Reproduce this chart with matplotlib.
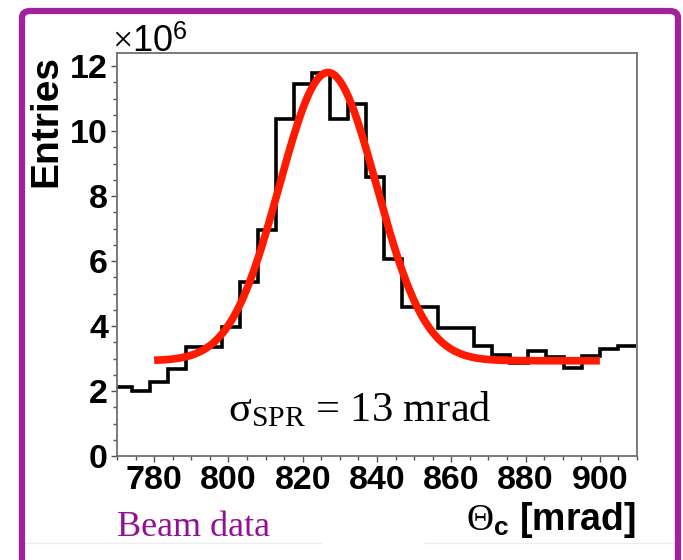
import numpy as np
import matplotlib
matplotlib.use("Agg")
import matplotlib.pyplot as plt
from matplotlib.patches import FancyBboxPatch
from matplotlib.lines import Line2D
from matplotlib.ticker import MultipleLocator

# ---------------- data ----------------
bin_low = 769.15          # lower edge of first bin [mrad]
bin_width = 4.85          # bin width [mrad]
entries_1e6 = [2.11, 2.01, 2.29, 2.67, 3.36, 3.36, 3.98, 5.36, 6.95, 10.36,
               11.44, 11.78, 10.36, 10.83, 8.59, 6.05, 4.57, 4.57, 3.93, 3.93,
               3.38, 3.11, 2.85, 3.22, 3.04, 2.70, 3.08, 3.29, 3.39]

# Gaussian + constant fit parameters
fit_mean = 826.8
fit_sigma = 13.1
fit_amp = 8.87
fit_const = 2.93
fit_range = (780.0, 900.0)

x_ticks = [780, 800, 820, 840, 860, 880, 900]
y_ticks = [0, 2, 4, 6, 8, 10, 12]
x_label = r"$\Theta_{\mathbf{c}}$ [mrad]"
y_label = "Entries"
annot = "σ$_{\\mathrm{SPR}}$ = 13 mrad"
tag = "Beam data"

# ---------------- figure ----------------
W, H = 683, 560
DPI = 100
plt.rcParams["mathtext.fontset"] = "custom"
plt.rcParams["mathtext.rm"] = "Liberation Serif"
plt.rcParams["mathtext.it"] = "Liberation Serif:italic"
plt.rcParams["mathtext.bf"] = "Liberation Sans:bold"
plt.rcParams["mathtext.sf"] = "Liberation Sans"

fig = plt.figure(figsize=(W / DPI, H / DPI), dpi=DPI)
fig.patch.set_facecolor("white")

def fx(px):
    return px / W

def fy(py):
    return 1 - py / H

ax_l, ax_r, ax_t, ax_b = 117, 637, 53, 456
ax = fig.add_axes([fx(ax_l), fy(ax_b), (ax_r - ax_l) / W, (ax_b - ax_t) / H])

edges = bin_low + bin_width * np.arange(len(entries_1e6) + 1)
ax.stairs(entries_1e6, edges, baseline=None, color="black", lw=2.6, zorder=2)

xf = np.linspace(fit_range[0], fit_range[1], 400)
yf = fit_const + fit_amp * np.exp(-0.5 * ((xf - fit_mean) / fit_sigma) ** 2)
ax.plot(xf, yf, color="#ff1a00", lw=5.5, solid_capstyle="butt", zorder=3)

ax.set_xlim(770, 910)
ax.set_ylim(0, 12.4)
ax.set_xticks(x_ticks)
ax.set_yticks(y_ticks)
ax.xaxis.set_minor_locator(MultipleLocator(5))
ax.yaxis.set_minor_locator(MultipleLocator(0.5))

spine_col = "#707070"
for s in ax.spines.values():
    s.set_color(spine_col)
    s.set_linewidth(1.3)
ax.tick_params(which="both", direction="out", color="#505050", width=1.0)
ax.tick_params(which="major", length=4.5, pad=2)
ax.tick_params(which="minor", length=3.0)
for lab in ax.get_xticklabels() + ax.get_yticklabels():
    lab.set_fontfamily("Liberation Sans")
    lab.set_fontweight("bold")
    lab.set_fontsize(24.5)

# y title (aligned to top of axis)
fig.text(fx(46), fy(55), y_label, rotation=90, ha="center", va="top",
         fontfamily="Liberation Sans", fontweight="bold", fontsize=28)
# x title (aligned to right)
fig.text(fx(636), fy(530), x_label, ha="right", va="baseline",
         fontfamily="Liberation Sans", fontweight="bold", fontsize=27)
# exponent
fig.text(fx(112), fy(52), r"$\times$10$^{\mathsf{6}}$", ha="left", va="baseline",
         fontfamily="Liberation Sans", fontsize=26)

# annotation
fig.text(fx(228), fy(421), annot, ha="left", va="baseline",
         fontfamily="Liberation Serif", fontsize=30.5)

fig.text(fx(117), fy(536), tag, ha="left", va="baseline",
         fontfamily="Liberation Serif", fontsize=26, color="#930f93")

# purple frame
frame = FancyBboxPatch((fx(22), fy(600)), fx(678) - fx(22), fy(11) - fy(600),
                       boxstyle="round,pad=0,rounding_size=0.012",
                       transform=fig.transFigure, fill=False,
                       edgecolor="#a0229c", lw=4.5, zorder=10)
fig.patches.append(frame)

# faint separator line
for x0, x1 in [(25, 321), (425, 678)]:
    fig.add_artist(Line2D([fx(x0), fx(x1)], [fy(543), fy(543)],
                          transform=fig.transFigure, color="#ececec", lw=1.0))

fig.savefig("out.png", dpi=DPI)
